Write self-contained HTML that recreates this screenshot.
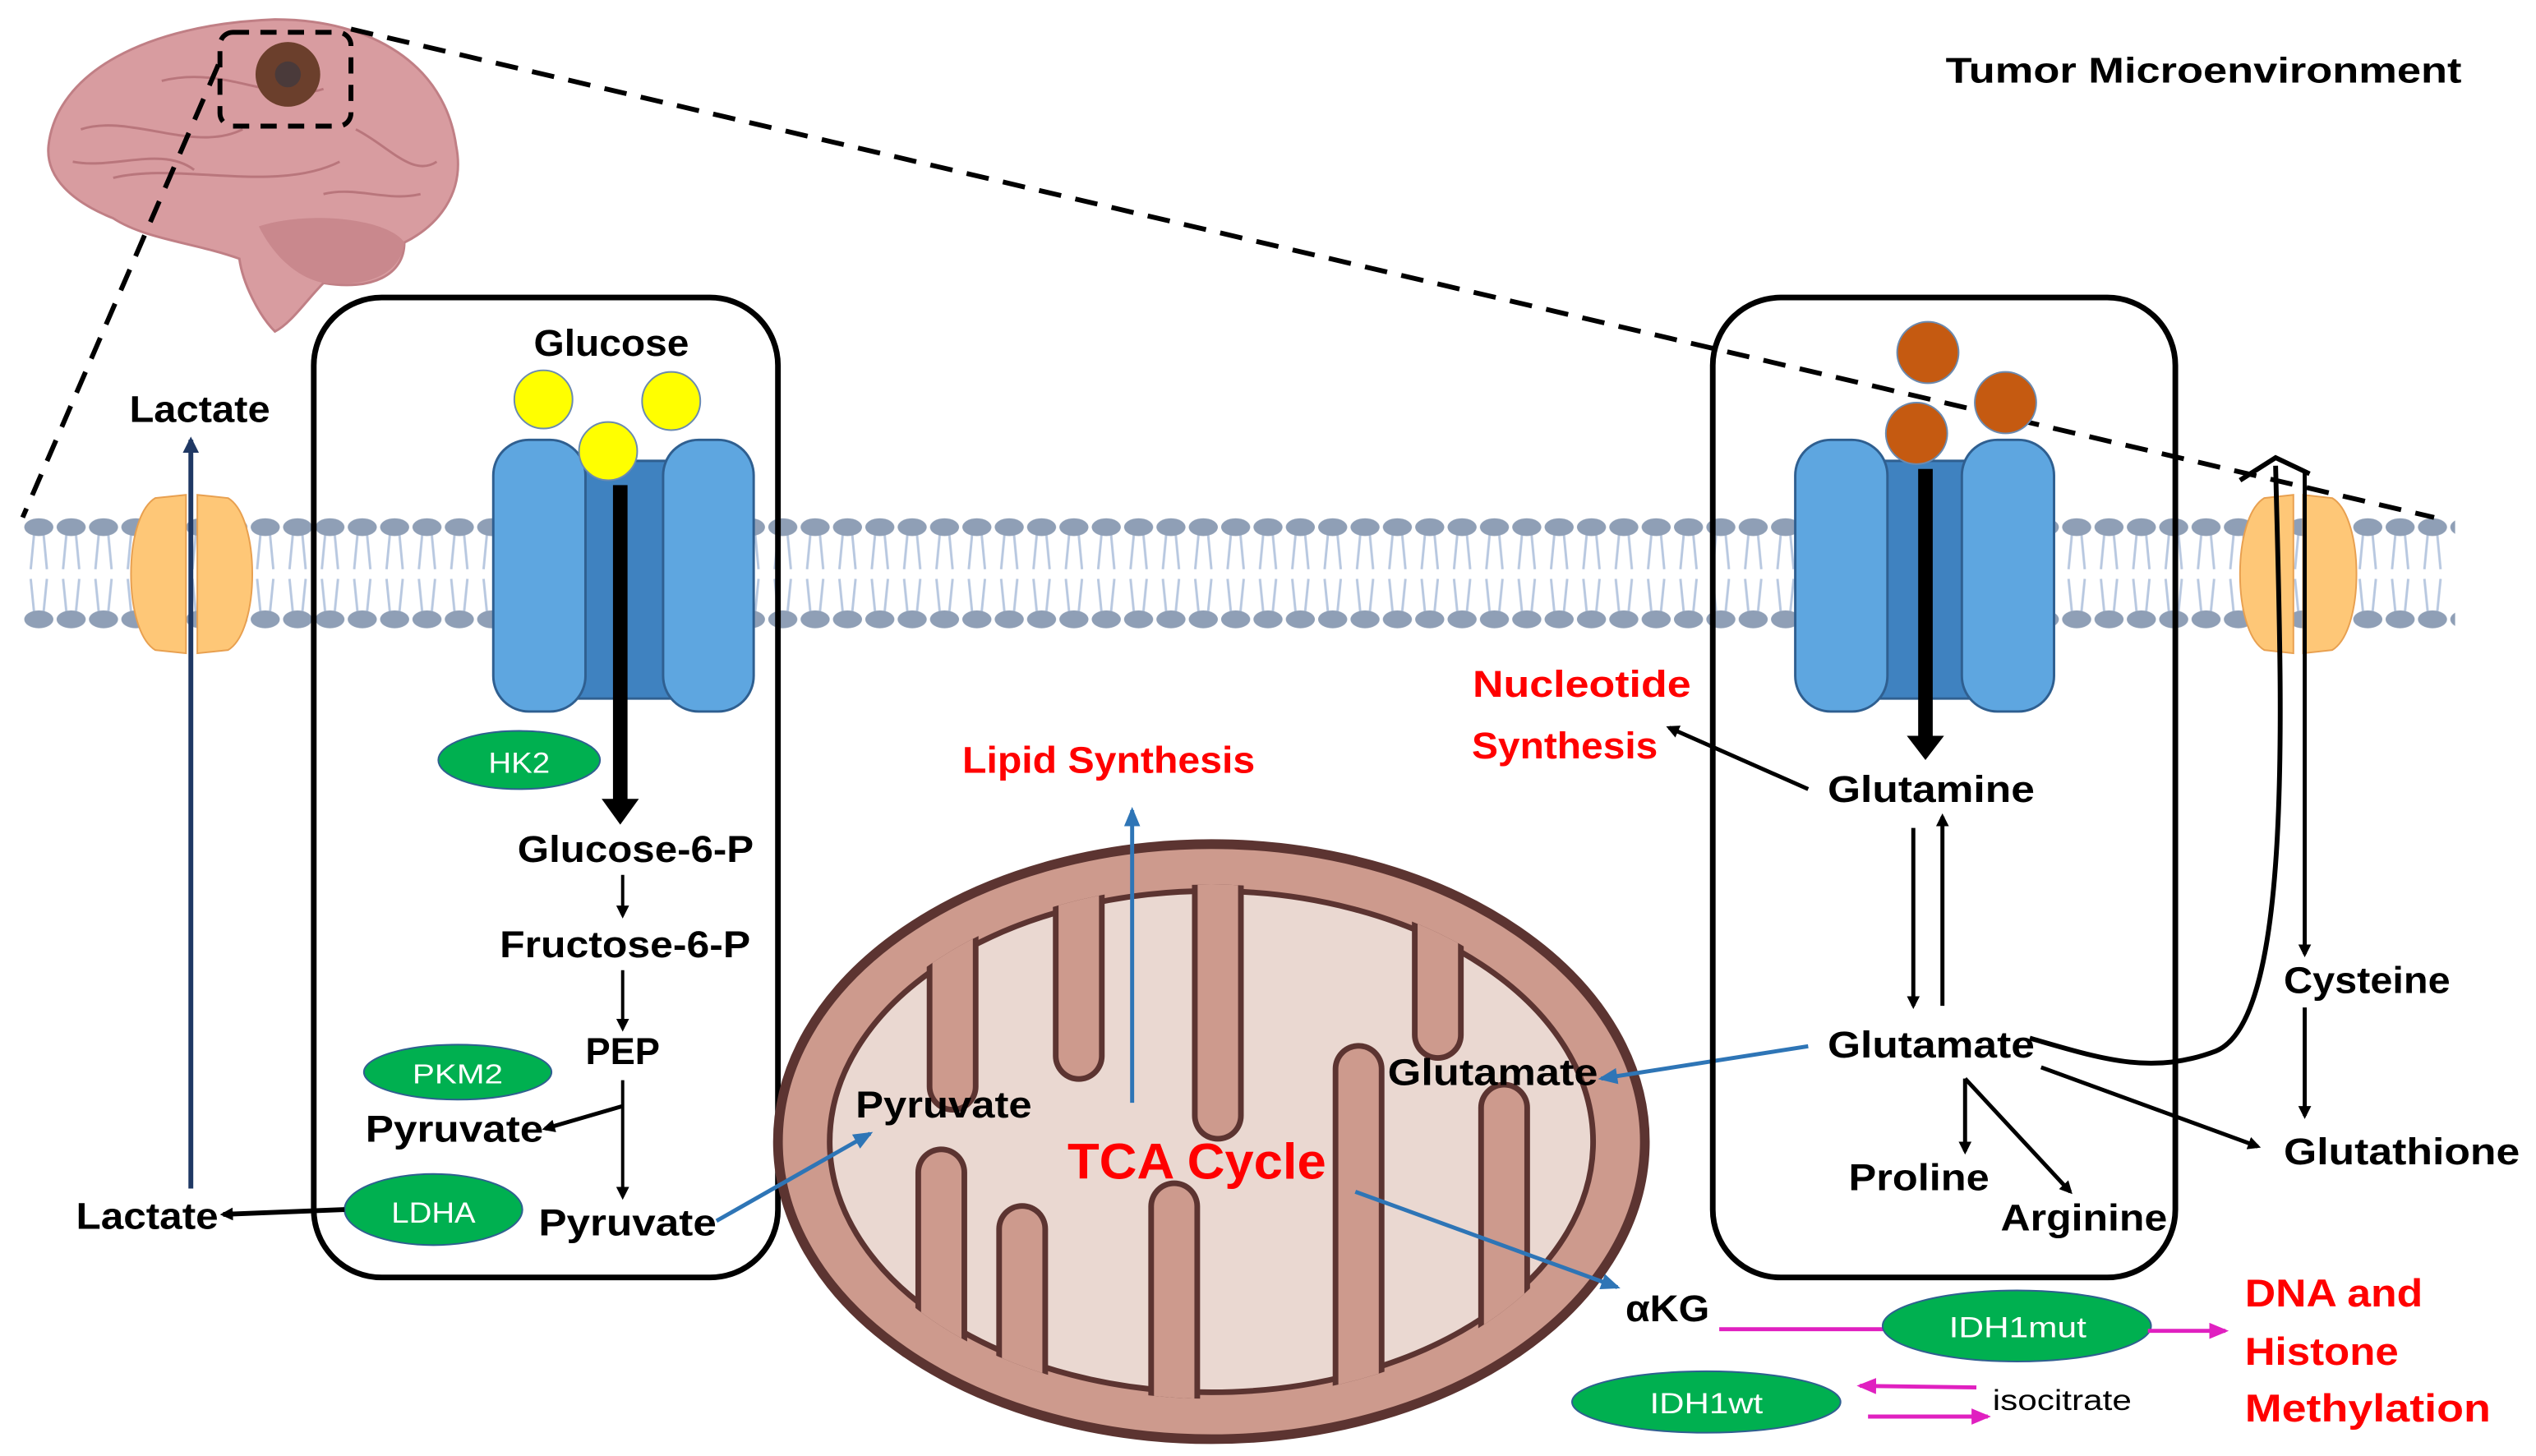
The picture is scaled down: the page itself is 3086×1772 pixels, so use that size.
<!DOCTYPE html>
<html><head><meta charset="utf-8"><style>
html,body{margin:0;padding:0;background:#fff;}
svg{display:block;}
text{font-family:"Liberation Sans",sans-serif;font-weight:bold;}
</style></head><body>
<svg width="3086" height="1772" viewBox="0 0 1568 900.4" preserveAspectRatio="none" xmlns="http://www.w3.org/2000/svg">
<defs>
<marker id="ab" markerWidth="8" markerHeight="8" refX="6" refY="4" orient="auto" markerUnits="userSpaceOnUse"><path d="M0,0 L8,4 L0,8 Z" fill="#000"/></marker>
<marker id="abl" markerWidth="12" markerHeight="10" refX="10" refY="5" orient="auto" markerUnits="userSpaceOnUse"><path d="M0,0 L12,5 L0,10 Z" fill="#2e75b6"/></marker>
<marker id="am" markerWidth="12" markerHeight="10" refX="10" refY="5" orient="auto" markerUnits="userSpaceOnUse"><path d="M0,0 L12,5 L0,10 Z" fill="#e020c0"/></marker>
<marker id="an" markerWidth="10" markerHeight="10" refX="8" refY="5" orient="auto" markerUnits="userSpaceOnUse"><path d="M0,0 L10,5 L0,10 Z" fill="#1f3864"/></marker>
<pattern id="mem" x="14" y="0" width="20" height="900" patternUnits="userSpaceOnUse">
<path d="M7,331 L5,352 M13,331 L15,352 M5,358 L7,378 M15,358 L13,378" stroke="#b8c8e0" stroke-width="1.5" fill="none"/>
<ellipse cx="10" cy="326" rx="9" ry="5.5" fill="#8f9fb6"/>
<ellipse cx="10" cy="383" rx="9" ry="5.5" fill="#8f9fb6"/>
</pattern>
<clipPath id="mc"><ellipse cx="749" cy="706" rx="240" ry="159"/></clipPath>
</defs>

<rect x="14" y="318" width="1504" height="72" fill="url(#mem)"/>

<!-- brain -->
<g>
<path d="M30,90 C35,45 90,15 170,12 C230,12 275,40 282,90 C288,120 270,140 250,150 C250,170 230,180 200,175 C190,185 180,200 170,205 C160,195 150,175 148,160 C120,150 90,148 70,135 C45,125 28,110 30,90 Z" fill="#d89ca0" stroke="#c07f85" stroke-width="1.5"/>
<path d="M160,140 C190,130 240,135 250,150 C248,168 230,178 200,175 C185,172 170,160 160,140 Z" fill="#c9888d"/>
<path d="M50,80 C80,70 120,95 150,80 M70,110 C110,100 170,120 210,100 M100,50 C140,40 170,65 200,55 M220,80 C240,90 255,110 270,100 M45,100 C70,105 100,90 120,105 M200,120 C220,115 240,125 260,120" stroke="#b9767c" stroke-width="1.5" fill="none"/>
<circle cx="178" cy="46" r="20" fill="#6b3f2c"/>
<circle cx="178" cy="46" r="8" fill="#4a3a3a"/>
<rect x="136" y="20" width="81" height="58" rx="8" fill="none" stroke="#000" stroke-width="3" stroke-dasharray="10,7"/>
</g>
<line x1="135" y1="40" x2="14" y2="320" stroke="#000" stroke-width="3" stroke-dasharray="14,9"/>
<line x1="217" y1="18" x2="1505" y2="320" stroke="#000" stroke-width="3" stroke-dasharray="14,9"/>
<text x="1203" y="51" font-size="22" textLength="319" lengthAdjust="spacingAndGlyphs">Tumor Microenvironment</text>

<!-- left lactate channel -->
<path d="M96,308 L115,306 L115,404 L96,402 C76,390 76,320 96,308 Z" fill="#fec777" stroke="#e8a050" stroke-width="1"/>
<path d="M122,306 L141,308 C161,320 161,390 141,402 L122,404 Z" fill="#fec777" stroke="#e8a050" stroke-width="1"/>
<line x1="118" y1="735" x2="118" y2="272" stroke="#1f3864" stroke-width="3" marker-end="url(#an)"/>
<text x="80" y="261" font-size="23" textLength="87" lengthAdjust="spacingAndGlyphs">Lactate</text>

<!-- left cell -->
<rect x="194" y="184" width="287" height="606" rx="42" fill="none" stroke="#000" stroke-width="3.5"/>
<text x="330" y="220" font-size="23" textLength="96" lengthAdjust="spacingAndGlyphs">Glucose</text>
<path d="M355,285 L415,285 L415,432 L355,432 Z" fill="#3f82c0" stroke="#2f5f90" stroke-width="1.5"/>
<rect x="305" y="272" width="57" height="168" rx="22" fill="#5ea6e0" stroke="#2f5f90" stroke-width="1.5"/>
<rect x="410" y="272" width="56" height="168" rx="22" fill="#5ea6e0" stroke="#2f5f90" stroke-width="1.5"/>
<circle cx="336" cy="247" r="18" fill="#ffff00" stroke="#6a8ab0" stroke-width="1"/>
<circle cx="415" cy="248" r="18" fill="#ffff00" stroke="#6a8ab0" stroke-width="1"/>
<circle cx="376" cy="279" r="18" fill="#ffff00" stroke="#6a8ab0" stroke-width="1"/>
<rect x="379" y="300" width="9" height="195" fill="#000"/>
<path d="M372,494 L395,494 L383.5,510 Z" fill="#000"/>
<ellipse cx="321" cy="470" rx="50" ry="18" fill="#00b050" stroke="#2f5f90" stroke-width="1"/>
<text x="302" y="478" font-size="18" fill="#fff" style="font-weight:normal" textLength="38" lengthAdjust="spacingAndGlyphs">HK2</text>
<text x="320" y="533" font-size="23" textLength="146" lengthAdjust="spacingAndGlyphs">Glucose-6-P</text>
<line x1="385" y1="541" x2="385" y2="566" stroke="#000" stroke-width="2" marker-end="url(#ab)"/>
<text x="309" y="592" font-size="23" textLength="155" lengthAdjust="spacingAndGlyphs">Fructose-6-P</text>
<line x1="385" y1="600" x2="385" y2="636" stroke="#000" stroke-width="2" marker-end="url(#ab)"/>
<text x="362" y="658" font-size="23" textLength="46" lengthAdjust="spacingAndGlyphs">PEP</text>
<ellipse cx="283" cy="663" rx="58" ry="17" fill="#00b050" stroke="#2f5f90" stroke-width="1"/>
<text x="255" y="670" font-size="17" fill="#fff" style="font-weight:normal" textLength="56" lengthAdjust="spacingAndGlyphs">PKM2</text>
<line x1="385" y1="668" x2="385" y2="740" stroke="#000" stroke-width="2" marker-end="url(#ab)"/>
<line x1="385" y1="684" x2="337" y2="698" stroke="#000" stroke-width="2.5" marker-end="url(#ab)"/>
<text x="226" y="706" font-size="23" textLength="110" lengthAdjust="spacingAndGlyphs">Pyruvate</text>
<ellipse cx="268" cy="748" rx="55" ry="22" fill="#00b050" stroke="#2f5f90" stroke-width="1"/>
<text x="242" y="756" font-size="18" fill="#fff" style="font-weight:normal" textLength="52" lengthAdjust="spacingAndGlyphs">LDHA</text>
<line x1="213" y1="748" x2="138" y2="751" stroke="#000" stroke-width="3" marker-end="url(#ab)"/>
<text x="47" y="760" font-size="23" textLength="88" lengthAdjust="spacingAndGlyphs">Lactate</text>
<text x="333" y="764" font-size="23" textLength="110" lengthAdjust="spacingAndGlyphs">Pyruvate</text>

<!-- mitochondrion -->
<ellipse cx="749" cy="706" rx="268" ry="184" fill="#cd9a8d" stroke="#5c3431" stroke-width="6"/>
<ellipse cx="749" cy="706" rx="236" ry="155" fill="#ead8d1" stroke="#5c3431" stroke-width="3.5"/>
<g stroke-linecap="round" fill="none" clip-path="url(#mc)">
<g stroke="#5c3431" stroke-width="32">
<path d="M589,500 L589,672"/><path d="M667,500 L667,653"/><path d="M753,500 L753,690"/><path d="M889,500 L889,640"/>
<path d="M582,900 L582,725"/><path d="M632,900 L632,760"/><path d="M726,900 L726,746"/><path d="M840,900 L840,661"/><path d="M930,900 L930,685"/>
</g>
<g stroke="#cd9a8d" stroke-width="25">
<path d="M589,500 L589,672"/><path d="M667,500 L667,653"/><path d="M753,500 L753,690"/><path d="M889,500 L889,640"/>
<path d="M582,900 L582,725"/><path d="M632,900 L632,760"/><path d="M726,900 L726,746"/><path d="M840,900 L840,661"/><path d="M930,900 L930,685"/>
</g>
</g>
<text x="529" y="691" font-size="23" textLength="109" lengthAdjust="spacingAndGlyphs">Pyruvate</text>
<text x="858" y="671" font-size="23" textLength="130" lengthAdjust="spacingAndGlyphs">Glutamate</text>
<text x="660" y="729" font-size="31" fill="#ff0000" textLength="160" lengthAdjust="spacingAndGlyphs">TCA Cycle</text>
<line x1="443" y1="755" x2="538" y2="701" stroke="#2e75b6" stroke-width="2.5" marker-end="url(#abl)"/>
<line x1="700" y1="682" x2="700" y2="501" stroke="#2e75b6" stroke-width="2.5" marker-end="url(#abl)"/>
<text x="595" y="478" font-size="23" fill="#ff0000" textLength="181" lengthAdjust="spacingAndGlyphs">Lipid Synthesis</text>
<line x1="1118" y1="647" x2="990" y2="667" stroke="#2e75b6" stroke-width="2.5" marker-end="url(#abl)"/>
<line x1="838" y1="737" x2="1000" y2="796" stroke="#2e75b6" stroke-width="2.5" marker-end="url(#abl)"/>
<text x="1005" y="817" font-size="23" textLength="52" lengthAdjust="spacingAndGlyphs">αKG</text>

<!-- right cell -->
<rect x="1059" y="184" width="286" height="606" rx="42" fill="none" stroke="#000" stroke-width="3.5"/>
<path d="M1158,285 L1222,285 L1222,432 L1158,432 Z" fill="#3f82c0" stroke="#2f5f90" stroke-width="1.5"/>
<rect x="1110" y="272" width="57" height="168" rx="22" fill="#5ea6e0" stroke="#2f5f90" stroke-width="1.5"/>
<rect x="1213" y="272" width="57" height="168" rx="22" fill="#5ea6e0" stroke="#2f5f90" stroke-width="1.5"/>
<circle cx="1192" cy="218" r="19" fill="#c55a11" stroke="#6a8ab0" stroke-width="1"/>
<circle cx="1240" cy="249" r="19" fill="#c55a11" stroke="#6a8ab0" stroke-width="1"/>
<circle cx="1185" cy="268" r="19" fill="#c55a11" stroke="#6a8ab0" stroke-width="1"/>
<rect x="1186" y="290" width="9" height="166" fill="#000"/>
<path d="M1179,455 L1202,455 L1190.5,470 Z" fill="#000"/>
<text x="978" y="431" font-size="23" fill="#ff0000" text-anchor="middle" textLength="135" lengthAdjust="spacingAndGlyphs">Nucleotide</text>
<text x="910" y="469" font-size="23" fill="#ff0000" textLength="115" lengthAdjust="spacingAndGlyphs">Synthesis</text>
<line x1="1118" y1="488" x2="1032" y2="450" stroke="#000" stroke-width="2.5" marker-end="url(#ab)"/>
<text x="1130" y="496" font-size="23" textLength="128" lengthAdjust="spacingAndGlyphs">Glutamine</text>
<line x1="1183" y1="512" x2="1183" y2="622" stroke="#000" stroke-width="2.5" marker-end="url(#ab)"/>
<line x1="1201" y1="622" x2="1201" y2="505" stroke="#000" stroke-width="2.5" marker-end="url(#ab)"/>
<text x="1130" y="654" font-size="23" textLength="128" lengthAdjust="spacingAndGlyphs">Glutamate</text>
<line x1="1215" y1="667" x2="1215" y2="712" stroke="#000" stroke-width="2.5" marker-end="url(#ab)"/>
<line x1="1215" y1="667" x2="1280" y2="737" stroke="#000" stroke-width="2.5" marker-end="url(#ab)"/>
<text x="1143" y="736" font-size="23" textLength="87" lengthAdjust="spacingAndGlyphs">Proline</text>
<text x="1237" y="761" font-size="23" textLength="103" lengthAdjust="spacingAndGlyphs">Arginine</text>
<line x1="1262" y1="660" x2="1396" y2="709" stroke="#000" stroke-width="2.5" marker-end="url(#ab)"/>
<text x="1412" y="720" font-size="23" textLength="146" lengthAdjust="spacingAndGlyphs">Glutathione</text>

<!-- right channel -->
<path d="M1400,308 L1418,306 L1418,404 L1400,402 C1380,390 1380,320 1400,308 Z" fill="#fec777" stroke="#e8a050" stroke-width="1"/>
<path d="M1424,306 L1442,308 C1462,320 1462,390 1442,402 L1424,404 Z" fill="#fec777" stroke="#e8a050" stroke-width="1"/>
<path d="M1255,642 C1300,655 1330,665 1370,650 C1420,630 1410,420 1407,288" stroke="#000" stroke-width="3" fill="none"/>
<path d="M1385,297 L1407,283 L1428,293" stroke="#000" stroke-width="3" fill="none"/>
<line x1="1425" y1="292" x2="1425" y2="590" stroke="#000" stroke-width="2.5" marker-end="url(#ab)"/>
<text x="1412" y="614" font-size="23" textLength="103" lengthAdjust="spacingAndGlyphs">Cysteine</text>
<line x1="1425" y1="623" x2="1425" y2="690" stroke="#000" stroke-width="2.5" marker-end="url(#ab)"/>

<!-- IDH -->
<line x1="1063" y1="822" x2="1170" y2="822" stroke="#e020c0" stroke-width="2.5"/>
<ellipse cx="1247" cy="820" rx="83" ry="22" fill="#00b050" stroke="#2f5f90" stroke-width="1"/>
<text x="1205" y="827" font-size="18" fill="#fff" style="font-weight:normal" textLength="85" lengthAdjust="spacingAndGlyphs">IDH1mut</text>
<line x1="1328" y1="823" x2="1376" y2="823" stroke="#e020c0" stroke-width="2.5" marker-end="url(#am)"/>
<text x="1388" y="808" font-size="24" fill="#ff0000" textLength="110" lengthAdjust="spacingAndGlyphs">DNA and</text>
<text x="1388" y="844" font-size="24" fill="#ff0000" textLength="95" lengthAdjust="spacingAndGlyphs">Histone</text>
<text x="1388" y="879" font-size="24" fill="#ff0000" textLength="152" lengthAdjust="spacingAndGlyphs">Methylation</text>
<ellipse cx="1055" cy="867" rx="83" ry="19" fill="#00b050" stroke="#2f5f90" stroke-width="1"/>
<text x="1020" y="874" font-size="18" fill="#fff" style="font-weight:normal" textLength="70" lengthAdjust="spacingAndGlyphs">IDH1wt</text>
<line x1="1222" y1="858" x2="1150" y2="857" stroke="#e020c0" stroke-width="2.5" marker-end="url(#am)"/>
<line x1="1155" y1="876" x2="1229" y2="876" stroke="#e020c0" stroke-width="2.5" marker-end="url(#am)"/>
<text x="1232" y="872" font-size="18" style="font-weight:normal" textLength="86" lengthAdjust="spacingAndGlyphs">isocitrate</text>
</svg>
</body></html>
